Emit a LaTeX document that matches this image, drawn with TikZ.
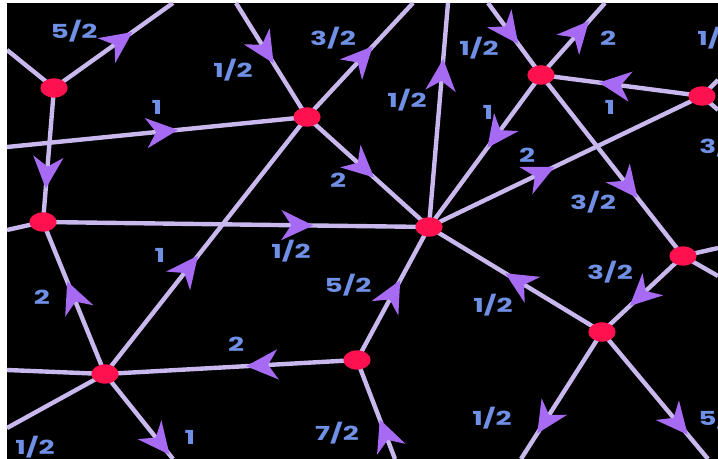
\documentclass[tikz,border=0pt]{standalone}
\usepackage{fontspec}
\newfontfamily\lblfont{Poppins}
\usetikzlibrary{arrows.meta,decorations.markings,shapes.geometric}
\definecolor{edgec}{HTML}{C8B8EE}
\definecolor{arrowc}{HTML}{A66BF2}
\definecolor{nodec}{HTML}{FF1150}
\definecolor{lblc}{HTML}{7090E6}
\pgfdeclarelayer{bg}
\pgfdeclarelayer{edges}
\pgfsetlayers{bg,edges,main}
\newcommand{\wide}[1]{\scalebox{1.45}[1]{#1}}
\begin{document}
\begin{tikzpicture}[x=0.02cm,y=-0.02cm,
  vtx/.style={ellipse,fill=nodec,minimum width=15.5pt,minimum height=11pt,inner sep=0pt},
  edge/.style={draw=edgec,line width=2.5pt},
  arr/.style={postaction={decorate},decoration={markings,
     mark=at position #1 with {\arrow{Stealth[length=18pt,width=17pt,inset=5.5pt,color=arrowc]}}}},
  lbl/.style={text=lblc,inner sep=0pt,font=\lblfont\bfseries\fontsize{11}{12}\selectfont}]
\useasboundingbox (0,0) rectangle (718,459);
\begin{pgfonlayer}{bg}
  \fill[white] (0,0) rectangle (718,459);
  \fill[black] (7,3) rectangle (718,459);
\end{pgfonlayer}
% vertices
\node[vtx] (A) at (54,88) {};
\node[vtx] (B) at (307,117) {};
\node[vtx] (C) at (43,222) {};
\node[vtx] (D) at (429,227) {};
\node[vtx] (E) at (541,75) {};
\node[vtx] (F) at (702,96) {};
\node[vtx] (G) at (683,256) {};
\node[vtx] (H) at (602,332) {};
\node[vtx] (I) at (357,360) {};
\node[vtx] (J) at (105,374) {};
% free ends
\coordinate (a1) at (7,50);
\coordinate (a2) at (173,3);
\coordinate (b0) at (7,147);
\coordinate (b1) at (236,3);
\coordinate (b2) at (413,3);
\coordinate (c0) at (7,230);
\coordinate (d0) at (448,3);
\coordinate (e1) at (488,3);
\coordinate (e2) at (605,3);
\coordinate (f1) at (718,80);
\coordinate (f2) at (718,110);
\coordinate (g1) at (718,248);
\coordinate (g2) at (718,276);
\coordinate (h1) at (521,459);
\coordinate (h2) at (708,459);
\coordinate (i1) at (395,459);
\coordinate (j1) at (7,370);
\coordinate (j2) at (7,428);
\coordinate (j3) at (173,459);
\begin{pgfonlayer}{edges}
\begin{scope}
\clip (7,3) rectangle (718,459);
\draw[edge] (A.center) -- (a1);
\draw[edge,arr=0.66] (A.center) -- (a2);
\draw[edge,arr=0.57] (b0) -- (B.center);
\draw[edge,arr=0.75] (A.center) -- (C.center);
\draw[edge,arr=0.53] (b1) -- (B.center);
\draw[edge,arr=0.62] (B.center) -- (b2);
\draw[edge,arr=0.55] (B.center) -- (D.center);
\draw[edge,arr=0.46] (J.center) -- (B.center);
\draw[edge,arr=0.70] (C.center) -- (D.center);
\draw[edge] (C.center) -- (c0);
\draw[edge,arr=0.61] (J.center) -- (C.center);
\draw[edge,arr=0.75] (D.center) -- (d0);
\draw[edge,arr=0.48] (E.center) -- (D.center);
\draw[edge,arr=0.46] (D.center) -- (F.center);
\draw[edge,arr=0.57] (e1) -- (E.center);
\draw[edge,arr=0.75] (E.center) -- (e2);
\draw[edge,arr=0.64] (F.center) -- (E.center);
\draw[edge,arr=0.68] (E.center) -- (G.center);
\draw[edge] (F.center) -- (f1);
\draw[edge] (F.center) -- (f2);
\draw[edge,arr=0.56] (H.center) -- (D.center);
\draw[edge,arr=0.60] (I.center) -- (D.center);
\draw[edge,arr=0.66] (G.center) -- (H.center);
\draw[edge] (G.center) -- (g1);
\draw[edge] (G.center) -- (g2);
\draw[edge,arr=0.80] (H.center) -- (h1);
\draw[edge,arr=0.81] (H.center) -- (h2);
\draw[edge,arr=0.44] (I.center) -- (J.center);
\draw[edge,arr=0.40] (i1) -- (I.center);
\draw[edge] (J.center) -- (j1);
\draw[edge] (J.center) -- (j2);
\draw[edge,arr=0.95] (J.center) -- (j3);
\end{scope}
\end{pgfonlayer}
% labels
\node[lbl] (l1) at (74,31) {\wide{5/2}};
\node[lbl] (l2) at (157,107) {\wide{1}};
\node[lbl] (l3) at (233,70) {\wide{1/2}};
\node[lbl] (l4) at (333,38) {\wide{3/2}};
\node[lbl] (l5) at (479,48) {\wide{1/2}};
\node[lbl] (l6) at (608,38) {\wide{2}};
\node[lbl,anchor=west] (l7) at (697,38) {\wide{1/2}};
\node[lbl] (l8) at (407,100) {\wide{1/2}};
\node[lbl] (l9) at (488,112) {\wide{1}};
\node[lbl] (l10) at (610,107) {\wide{1}};
\node[lbl,anchor=west] (l11) at (699,146) {\wide{3/2}};
\node[lbl] (l12) at (338,180) {\wide{2}};
\node[lbl] (l13) at (527,155) {\wide{2}};
\node[lbl] (l14) at (593,202) {\wide{3/2}};
\node[lbl] (l15) at (160,255) {\wide{1}};
\node[lbl] (l16) at (291,251) {\wide{1/2}};
\node[lbl] (l17) at (348,285) {\wide{5/2}};
\node[lbl] (l18) at (610,272) {\wide{3/2}};
\node[lbl] (l19) at (493,305) {\wide{1/2}};
\node[lbl] (l20) at (42,297) {\wide{2}};
\node[lbl] (l21) at (236,344) {\wide{2}};
\node[lbl] (l22) at (492,418) {\wide{1/2}};
\node[lbl,anchor=west] (l23) at (698,418) {\wide{5/2}};
\node[lbl] (l24) at (337,433) {\wide{7/2}};
\node[lbl] (l25) at (190,437) {\wide{1}};
\node[lbl] (l26) at (35,447) {\wide{1/2}};
\end{tikzpicture}
\end{document}
